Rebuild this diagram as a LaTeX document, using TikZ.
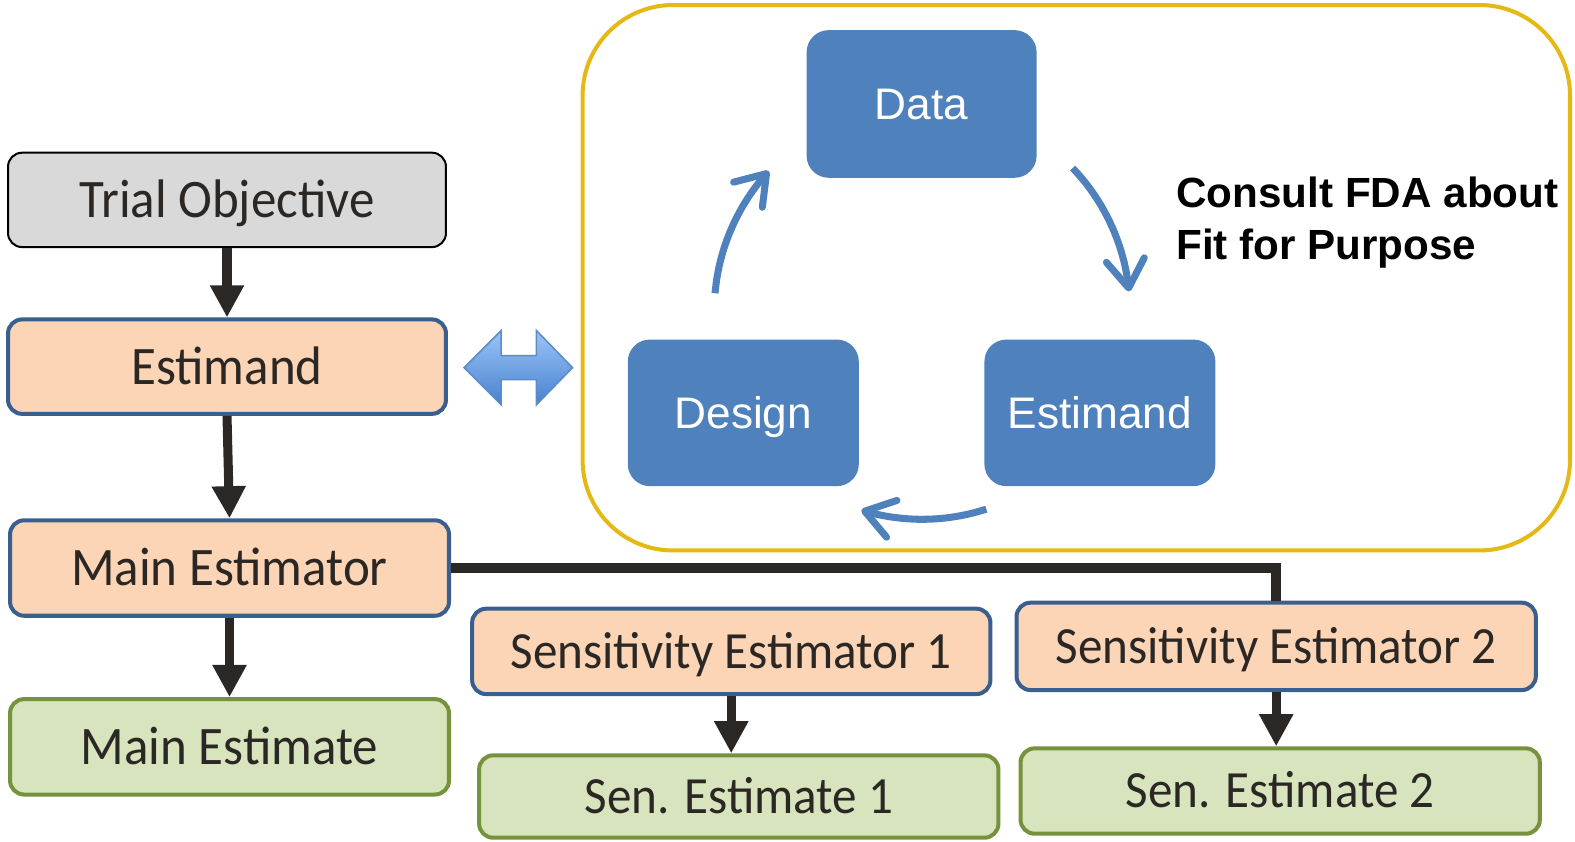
\documentclass[tikz,border=0pt]{standalone}
\usepackage{fontspec}
\setmainfont{Carlito}[FakeStretch=0.94]
\newfontfamily\arialf{Liberation Sans}
\usetikzlibrary{arrows.meta}
\definecolor{peach}{HTML}{FBD5B5}
\definecolor{peachline}{HTML}{3A5F8E}
\definecolor{greenfill}{HTML}{D7E4BD}
\definecolor{greenline}{HTML}{76923C}
\definecolor{grayfill}{HTML}{D9D9D9}
\definecolor{darkink}{HTML}{2B2724}
\definecolor{boxblue}{HTML}{4F81BD}
\definecolor{gold}{HTML}{E6B816}
\definecolor{dblTop}{HTML}{9DC3F6}
\definecolor{dblBot}{HTML}{4682D0}
\definecolor{dblLine}{HTML}{5B8BC8}
\begin{document}
\begin{tikzpicture}[x=1pt,y=-1pt,
  box/.style={rounded corners=14pt, inner sep=0pt, text depth=0pt, text=darkink, align=center},
  graybox/.style={box, fill=grayfill, draw=black, line width=2pt},
  peachbox/.style={box, fill=peach, draw=peachline, line width=4pt},
  greenbox/.style={box, fill=greenfill, draw=greenline, line width=4pt},
  bigtext/.style={font=\fontsize{54}{62}\selectfont, text height=34.8pt},
  midtext/.style={font=\fontsize{52}{60}\selectfont, text height=33.5pt},
  bluebox/.style={rounded corners=22pt, fill=boxblue, inner sep=0pt, text=white, font=\arialf\fontsize{44}{52}\selectfont, text height=31.5pt, text depth=0pt},
  flow/.style={draw=darkink, line width=9pt, -{Triangle[length=32pt,width=32pt]}},
  cycarrow/.style={draw=boxblue, line width=7pt, -{Straight Barb[length=28pt,width=38pt,round]}},
  fdatext/.style={font=\arialf\bfseries\fontsize{42}{50}\selectfont, anchor=base west, inner sep=0pt, text=black},
]
\useasboundingbox (0,0) rectangle (1568,838);

% left column
\node[graybox, bigtext, minimum width=436pt, minimum height=94pt] (trial) at (226,199) {Trial Objective};
\node[peachbox, bigtext, minimum width=436pt, minimum height=94pt] (estL) at (226,365) {Estimand};
\node[peachbox, bigtext, minimum width=437pt, minimum height=95pt] (mestor) at (228.5,565.5) {Main Estimator};
\node[greenbox, bigtext, minimum width=437pt, minimum height=95pt] (mest) at (228.5,743.5) {Main Estimate};

% sensitivity
\node[peachbox, midtext, minimum width=516pt, minimum height=85pt] (sens1) at (728,648.5) {Sensitivity Estimator 1};
\node[peachbox, midtext, minimum width=517pt, minimum height=87pt] (sens2) at (1270.5,643.5) {Sensitivity Estimator 2};
\node[greenbox, midtext, minimum width=517pt, minimum height=82pt] (sen1) at (735.5,793) {Sen. Estimate 1};
\node[greenbox, midtext, minimum width=517pt, minimum height=85pt] (sen2) at (1274.5,787.5) {Sen. Estimate 2};

% connectors
\draw[flow] (trial.south) -- (estL.north);
\draw[flow] (estL.south) -- (mestor.north);
\draw[flow] (mestor.south) -- (mest.north);
\draw[flow] (sens1.south) -- (sens1.south |- sen1.north);
\draw[flow] (sens2.south) -- (sens2.south |- sen2.north);
\draw[draw=darkink, line width=10pt] (mestor.east) -| (sens2.north);

% frame
\draw[gold, line width=4pt, rounded corners=90pt] (580,5) rectangle (1563,548);

% double arrow
\draw[dblLine, line width=1.5pt, top color=dblTop, bottom color=dblBot]
  (462,366) -- (499,329) -- (499,354) -- (534,354) -- (534,329) -- (570,366)
  -- (534,403) -- (534,378) -- (499,378) -- (499,403) -- cycle;

% cycle boxes
\node[bluebox, minimum width=229pt, minimum height=147pt] (data) at (917.5,103.5) {Data};
\node[bluebox, minimum width=230pt, minimum height=146pt] (design) at (740,411) {Design};
\node[bluebox, minimum width=230pt, minimum height=146pt] (estR) at (1095,411) {Estimand};

\draw[cycarrow] plot[domain=175:137.5, samples=10, smooth] ({918+207*cos(\x)},{310-207*sin(\x)});
\draw[cycarrow] plot[domain=43.6:5.5, samples=10, smooth] ({918+207*cos(\x)},{310-207*sin(\x)});
\draw[cycarrow] plot[domain=-72:-107, samples=10, smooth] ({918+207*cos(\x)},{310-207*sin(\x)});

% text
\node[fdatext] (fda1) at (1171,207) {Consult FDA about};
\node[fdatext] (fda2) at (1171,258) {Fit for Purpose};
\end{tikzpicture}
\end{document}
